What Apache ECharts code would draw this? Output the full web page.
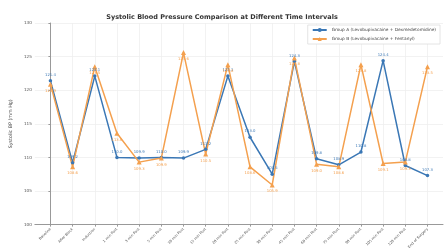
<!DOCTYPE html>
<html>
<head>
<meta charset="utf-8">
<script src="https://cdn.jsdelivr.net/npm/echarts@6/dist/echarts.min.js"></script>
<style>
  html, body { margin: 0; padding: 0; background: #fff; }
  #chart { width: 444px; height: 251px; }
</style>
</head>
<body>
<div id="chart"></div>
<script>
const timeLabels = [
  'Baseline', 'After Block', 'Induction', '1 min Post', '3 min Post', '5 min Post',
  '10 min Post', '15 min Post', '20 min Post', '25 min Post', '30 min Post', '45 min Post',
  '60 min Post', '75 min Post', '90 min Post', '105 min Post', '120 min Post', 'End of Surgery',
];
const groupA = [121.4, 109.2, 122.1, 110.0, 109.9, 110.0, 109.9, 111.2, 122.1, 113.0,
  107.5, 124.3, 109.8, 108.9, 110.8, 124.4, 108.8, 107.3];
const groupB = [120.9, 108.6, 123.5, 113.6, 109.3, 109.9, 125.6, 110.5, 123.8, 108.6,
  105.9, 124.8, 109.0, 108.6, 123.8, 109.1, 109.3, 123.5];
const yTicks = [100, 105, 110, 115, 120, 125, 130];

const nameA = 'Group A (Levobupivacaine + Dexmedetomidine)';
const nameB = 'Group B (Levobupivacaine + Fentanyl)';
const blue = '#3a77b5';
const orange = '#f4a04e';
const font = 'DejaVu Sans';
const idx = timeLabels.map((t, i) => i);

const chart = echarts.init(document.getElementById('chart'));

function makeSeries(name, values, color, symbol, size, pos) {
  return {
    name,
    type: 'line',
    data: values.map((v, i) => [i, v]),
    symbol,
    symbolSize: size,
    lineStyle: { color, width: 1.5 },
    itemStyle: { color },
    label: {
      show: true,
      position: pos,
      distance: 2,
      fontSize: 3.8,
      fontFamily: font,
      color,
      formatter: (p) => p.value[1].toFixed(1),
    },
    z: 3,
  };
}

chart.setOption({
  animation: false,
  textStyle: { fontFamily: font },
  title: {
    text: 'Systolic Blood Pressure Comparison at Different Time Intervals',
    left: 'center',
    top: 9,
    textStyle: { fontSize: 6.5, fontWeight: 'bold', color: '#333', fontFamily: font },
  },
  legend: {
    orient: 'vertical',
    right: 4,
    top: 25,
    padding: [3, 4],
    itemGap: 5,
    itemWidth: 14,
    itemHeight: 5,
    borderColor: '#ddd',
    borderWidth: 0.8,
    backgroundColor: '#fff',
    textStyle: { fontSize: 4.3, color: '#444', fontFamily: font },
    data: [nameA, nameB],
  },
  grid: { left: 27, right: 1, top: 23, bottom: 21 },
  xAxis: {
    type: 'value',
    min: -0.7,
    max: 17.7,
    axisLine: { show: true, lineStyle: { color: '#999', width: 1 } },
    axisTick: { show: true, customValues: idx, length: 2, lineStyle: { color: '#999' } },
    axisLabel: {
      customValues: idx,
      rotate: 45,
      fontSize: 3.6,
      color: '#555',
      margin: 4,
      formatter: (v) => timeLabels[Math.round(v)] || '',
    },
    splitLine: { show: true, lineStyle: { color: '#efefef', width: 0.8 } },
  },
  yAxis: {
    type: 'value',
    min: yTicks[0],
    max: yTicks[yTicks.length - 1],
    interval: 5,
    name: 'Systolic BP (mm Hg)',
    nameLocation: 'middle',
    nameGap: 15,
    nameTextStyle: { fontSize: 4.8, color: '#444', fontFamily: font },
    axisLine: { show: true, lineStyle: { color: '#999', width: 1 } },
    axisTick: { show: true, length: 2, lineStyle: { color: '#999' } },
    axisLabel: { fontSize: 4.2, color: '#555', margin: 3 },
    splitLine: { show: true, lineStyle: { color: '#efefef', width: 0.8 } },
  },
  series: [
    makeSeries(nameA, groupA, blue, 'circle', 3.5, 'top'),
    makeSeries(nameB, groupB, orange, 'triangle', 5, 'bottom'),
  ],
});
</script>
</body>
</html>
